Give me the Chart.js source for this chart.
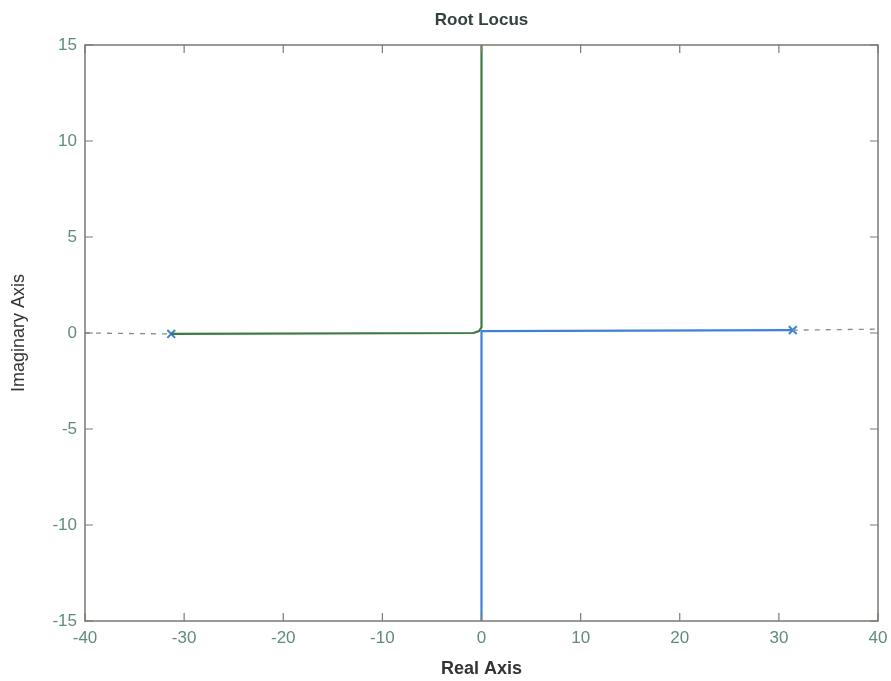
<!DOCTYPE html>
<html>
<head>
<meta charset="utf-8">
<script src="https://cdn.jsdelivr.net/npm/chart.js@4.4.1/dist/chart.umd.min.js"></script>
<style>
  html, body { margin: 0; padding: 0; background: #fff; }
  #wrap { width: 891px; height: 681px; }
</style>
</head>
<body>
<div id="wrap"><canvas id="c" width="891" height="681"></canvas></div>
<script>
// Root locus branches (real, imaginary)
const branchLeftX = [-31.3, -0.8, -0.25, 0, 0];
const branchLeftY = [-0.05, 0.0, 0.1, 0.3, 15];
const branchRightX = [31.4, 0, 0];
const branchRightY = [0.15, 0.1, -15];
const polesX = [-31.3, 31.4];
const polesY = [-0.05, 0.15];
const asymLeftX = [-40, -31.3];
const asymLeftY = [0, -0.05];
const asymRightX = [31.4, 40];
const asymRightY = [0.15, 0.2];
const xTicks = [-40, -30, -20, -10, 0, 10, 20, 30, 40];
const yTicks = [-15, -10, -5, 0, 5, 10, 15];

const pts = (xs, ys) => xs.map((x, i) => ({ x: x, y: ys[i] }));

// Matlab-style box with inward tick marks on all four sides
const boxTicks = {
  id: 'boxTicks',
  afterDraw(chart) {
    const { ctx, chartArea: a, scales } = chart;
    ctx.save();
    ctx.strokeStyle = '#7a7a72';
    ctx.lineWidth = 1.5;
    ctx.strokeRect(a.left, a.top, a.right - a.left, a.bottom - a.top);
    ctx.lineWidth = 1.2;
    const len = 8;
    ctx.beginPath();
    xTicks.forEach(v => {
      const px = scales.x.getPixelForValue(v);
      ctx.moveTo(px, a.bottom); ctx.lineTo(px, a.bottom - len);
      ctx.moveTo(px, a.top); ctx.lineTo(px, a.top + len);
    });
    yTicks.forEach(v => {
      const py = scales.y.getPixelForValue(v);
      ctx.moveTo(a.left, py); ctx.lineTo(a.left + len, py);
      ctx.moveTo(a.right, py); ctx.lineTo(a.right - len, py);
    });
    ctx.stroke();
    ctx.restore();
  }
};

const green = '#3d7a3f';
const blue = '#3d82d6';
const tickColor = '#5f8a7c';
const font = 'Liberation Sans';

new Chart(document.getElementById('c'), {
  type: 'scatter',
  data: {
    datasets: [
      { data: pts(asymLeftX, asymLeftY), showLine: true, borderColor: '#8a8a86', borderWidth: 1.3, borderDash: [5, 6], pointRadius: 0 },
      { data: pts(asymRightX, asymRightY), showLine: true, borderColor: '#8a8a86', borderWidth: 1.3, borderDash: [5, 6], pointRadius: 0 },
      { data: pts(branchLeftX, branchLeftY), showLine: true, borderColor: green, borderWidth: 2.2, pointRadius: 0, tension: 0 },
      { data: pts(branchRightX, branchRightY), showLine: true, borderColor: blue, borderWidth: 2.2, pointRadius: 0, tension: 0 },
      { data: pts(polesX, polesY), showLine: false, pointStyle: 'crossRot', pointRadius: 5.5, borderColor: blue, borderWidth: 2, backgroundColor: blue }
    ]
  },
  options: {
    responsive: false,
    animation: false,
    layout: { padding: { left: 0, right: 13, top: 0, bottom: 0 } },
    plugins: {
      legend: { display: false },
      tooltip: { enabled: false },
      title: { display: false }
    },
    scales: {
      x: {
        type: 'linear', min: -40, max: 40,
        afterBuildTicks: s => { s.ticks = xTicks.map(v => ({ value: v })); },
        afterFit: s => { s.height = 60; s.paddingLeft = 0; s.paddingRight = 0; },
        grid: { display: false, drawTicks: false },
        border: { display: false },
        ticks: { color: tickColor, padding: 7, font: { family: font, size: 17 }, maxRotation: 0 },
        title: { display: true, text: 'Real Axis', color: '#333', font: { family: font, size: 18, weight: 'bold' }, padding: { top: 0, bottom: 1 } }
      },
      // top axis carries the chart heading, centred over the plot box
      xTop: {
        axis: 'x', position: 'top', type: 'linear', min: -40, max: 40,
        afterFit: s => { s.height = 45; s.paddingLeft = 0; s.paddingRight = 0; },
        grid: { display: false, drawTicks: false },
        border: { display: false },
        ticks: { display: false },
        title: { display: true, text: 'Root Locus', color: '#334140', font: { family: font, size: 17, weight: 'bold' }, padding: { top: 10, bottom: 0 } }
      },
      y: {
        type: 'linear', min: -15, max: 15,
        afterBuildTicks: s => { s.ticks = yTicks.map(v => ({ value: v })); },
        afterFit: s => { s.width = 85; },
        grid: { display: false, drawTicks: false },
        border: { display: false },
        ticks: { color: tickColor, padding: 8, font: { family: font, size: 17 } },
        title: { display: true, text: 'Imaginary Axis', color: '#333', font: { family: font, size: 18 }, padding: { top: 8, bottom: 0 } }
      }
    }
  },
  plugins: [boxTicks]
});
</script>
</body>
</html>
